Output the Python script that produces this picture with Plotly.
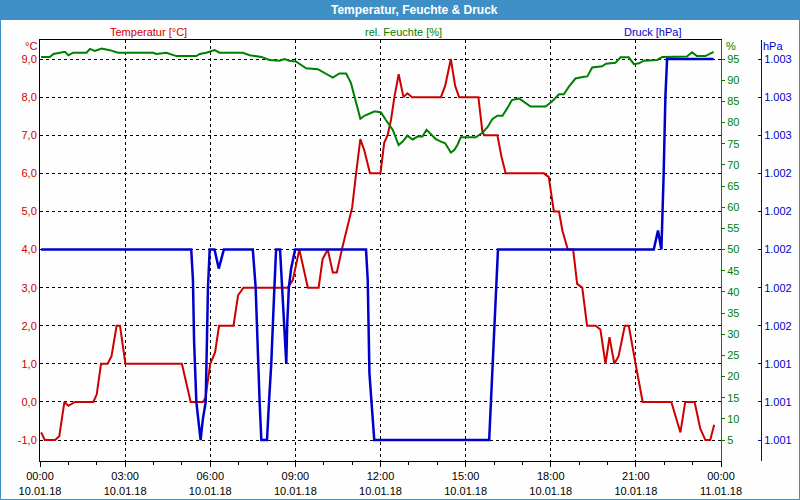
import plotly.graph_objects as go

# ---------------- data ----------------
temp_h = [0.04, 0.17, 0.53, 0.68, 0.86, 1.0, 1.23, 1.88, 2.0, 2.15, 2.38, 2.52, 2.7, 2.82, 3.01,
          5.0, 5.31, 5.74, 5.83, 6.0, 6.17, 6.31, 6.82, 6.98, 7.17, 8.73, 8.91, 9.14, 9.44, 9.82,
          9.96, 10.14, 10.32, 10.46, 10.67, 10.84, 11.0, 11.14, 11.29, 11.43, 11.63, 12.0, 12.13,
          12.25, 12.37, 12.49, 12.64, 12.81, 12.95, 13.11, 14.13, 14.28, 14.48, 14.63, 14.77,
          15.45, 15.59, 15.65, 16.12, 16.26, 16.41, 17.76, 17.93, 18.11, 18.29, 18.41, 18.6,
          18.79, 18.93, 19.11, 19.28, 19.58, 19.75, 19.93, 20.07, 20.24, 20.39, 20.61, 20.75,
          20.99, 21.24, 22.25, 22.57, 22.74, 23.07, 23.27, 23.45, 23.62, 23.76]
temp_v = [-0.8, -1.0, -1.0, -0.9, 0.0, -0.1, 0.0, 0.0, 0.2, 1.0, 1.0, 1.2, 2.0, 2.0, 1.0,
          1.0, 0.0, 0.0, 0.1, 1.0, 1.3, 2.0, 2.0, 2.8, 3.0, 3.0, 3.2, 4.0, 3.0, 3.0,
          3.75, 4.0, 3.4, 3.4, 4.1, 4.6, 5.1, 6.0, 6.9, 6.6, 6.0, 6.0, 6.8,
          7.0, 7.4, 8.0, 8.6, 8.0, 8.1, 8.0, 8.0, 8.3, 9.0, 8.3, 8.0,
          8.0, 7.1, 7.0, 7.0, 6.45, 6.0, 6.0, 5.9, 5.0, 5.0, 4.5, 4.0,
          4.0, 3.1, 3.0, 2.0, 2.0, 1.9, 1.0, 1.7, 1.0, 1.2, 2.0, 2.0,
          1.0, 0.0, 0.0, -0.8, 0.0, 0.0, -0.7, -1.0, -1.0, -0.6]

hum_h = [0.04, 0.35, 0.47, 0.70, 0.88, 1.0, 1.17, 1.64, 1.76, 1.93, 2.17, 2.46, 2.75, 3.99,
         4.10, 4.45, 4.81, 5.51, 5.63, 5.86, 6.15, 6.33, 7.15, 7.39, 7.80, 8.09, 8.44, 8.62,
         8.79, 9.03, 9.38, 9.79, 9.96, 10.32, 10.55, 10.79, 10.96, 11.08, 11.29, 11.43, 11.61,
         11.78, 11.84, 12.02, 12.19, 12.43, 12.64, 12.78, 12.95, 13.13, 13.31, 13.48, 13.62,
         13.77, 13.95, 14.13, 14.28, 14.48, 14.60, 14.71, 14.83, 15.36, 15.59, 15.77, 15.94,
         16.12, 16.30, 16.47, 16.63, 16.88, 17.12, 17.29, 17.82, 18.05, 18.29, 18.46, 18.64,
         18.87, 19.17, 19.29, 19.46, 19.81, 19.95, 20.28, 20.46, 20.75, 20.93, 21.11, 21.28,
         21.75, 21.93, 22.80, 22.98, 23.15, 23.45, 23.74]
hum_v = [95.5, 95.5, 96.2, 96.5, 96.7, 95.9, 96.5, 96.5, 97.4, 96.9, 97.5, 97.1, 96.5, 96.5,
         96.2, 96.5, 95.7, 95.7, 96.2, 96.5, 97.1, 96.5, 96.5, 95.9, 95.5, 94.8, 94.6, 95.0,
         94.6, 94.4, 92.8, 92.6, 92.0, 90.6, 91.6, 91.6, 89.3, 86.1, 80.9, 81.6, 82.2,
         82.6, 82.6, 82.4, 80.6, 78.3, 74.7, 75.5, 76.9, 76.0, 76.7, 76.7, 78.3,
         77.3, 76.1, 75.5, 75.1, 72.9, 73.5, 74.7, 76.5, 76.5, 77.6, 78.9, 80.8,
         81.6, 81.6, 83.4, 85.3, 85.7, 84.7, 83.8, 83.8, 85.0, 86.7, 86.7, 88.5,
         90.4, 90.8, 90.9, 93.0, 93.3, 93.9, 94.1, 95.4, 95.4, 93.8, 94.0, 94.6,
         94.8, 95.5, 95.6, 96.6, 95.7, 95.7, 96.7]

pres_h = [0.04, 5.33, 5.39, 5.43, 5.51, 5.66, 5.74, 5.84, 5.92, 5.98, 6.15, 6.30, 6.48, 7.50,
          7.60, 7.68, 7.74, 7.80, 8.00, 8.07, 8.15, 8.26, 8.32, 8.46, 8.53, 8.62, 8.68, 8.71,
          8.77, 8.85, 8.99, 11.49, 11.55, 11.61, 11.72, 11.78, 15.83, 15.89, 15.94, 16.03,
          16.09, 16.14, 21.63, 21.78, 21.90, 21.95, 21.98, 22.04, 22.10, 23.74]
pres_v = [1002.0, 1002.0, 1001.84, 1001.52, 1001.2, 1001.0, 1001.11, 1001.2, 1001.8, 1002.0,
          1002.0, 1001.9, 1002.0, 1002.0, 1001.8, 1001.4, 1001.2, 1001.0, 1001.0, 1001.2,
          1001.4, 1001.8, 1002.0, 1002.0, 1001.8, 1001.52, 1001.4, 1001.6, 1001.8, 1001.9,
          1002.0, 1002.0, 1001.84, 1001.35, 1001.14, 1001.0, 1001.0, 1001.2, 1001.42, 1001.72,
          1001.86, 1002.0, 1002.0, 1002.1, 1002.0, 1002.2, 1002.4, 1002.8, 1003.0, 1003.0]

x_ticks = [0, 3, 6, 9, 12, 15, 18, 21, 24]
x_ticktext = ["00:00<br>10.01.18", "03:00<br>10.01.18", "06:00<br>10.01.18", "09:00<br>10.01.18",
              "12:00<br>10.01.18", "15:00<br>10.01.18", "18:00<br>10.01.18", "21:00<br>10.01.18",
              "00:00<br>11.01.18"]
temp_ticks = [-1, 0, 1, 2, 3, 4, 5, 6, 7, 8, 9]
temp_ticktext = ["-1,0", "0,0", "1,0", "2,0", "3,0", "4,0", "5,0", "6,0", "7,0", "8,0", "9,0"]
hum_ticks = list(range(0, 100, 5))
pres_ticks = [1001.0, 1001.2, 1001.4, 1001.6, 1001.8, 1002.0, 1002.2, 1002.4, 1002.6, 1002.8, 1003.0]
pres_ticktext = ["1.001", "1.001", "1.001", "1.002", "1.002", "1.002", "1.002", "1.002",
                 "1.003", "1.003", "1.003"]

# ---------------- styling ----------------
RED = "#cc0000"
GREEN = "#008000"
BLUE = "#0000cc"
BAR = "#3e8fc6"
BG = "#fdfefd"
FONT = "Liberation Sans"

W, H = 800, 500
ML, MR, MT, MB = 40, 10, 40, 39
PW = W - ML - MR
PH = H - MT - MB


def px(x):
    return (x - ML) / PW


def py(y):
    return (H - MB - y) / PH


fig = go.Figure()
fig.add_trace(go.Scatter(x=hum_h, y=hum_v, yaxis="y2", mode="lines",
                         line=dict(color=GREEN, width=2), hoverinfo="skip"))
fig.add_trace(go.Scatter(x=temp_h, y=temp_v, yaxis="y", mode="lines",
                         line=dict(color=RED, width=2), hoverinfo="skip"))
fig.add_trace(go.Scatter(x=pres_h, y=pres_v, yaxis="y3", mode="lines",
                         line=dict(color=BLUE, width=2.5), hoverinfo="skip"))

xdom_end = px(721)

fig.update_layout(
    width=W, height=H, showlegend=False,
    margin=dict(l=ML, r=MR, t=MT, b=MB, pad=0, autoexpand=False),
    paper_bgcolor=BG, plot_bgcolor=BG,
    font=dict(family=FONT, size=11, color="black"),
    xaxis=dict(domain=[0, xdom_end], range=[0, 24], tickvals=x_ticks, ticktext=x_ticktext,
               automargin=False,
               showgrid=True, gridcolor="black", griddash="3px,3px", gridwidth=1,
               showline=True, linecolor="black", linewidth=1, mirror=True,
               ticks="outside", ticklen=5, tickcolor="black",
               minor=dict(dtick=1, ticks="outside", ticklen=3, tickcolor="black", showgrid=False),
               zeroline=False, tickfont=dict(size=11, color="black", family=FONT)),
    yaxis=dict(range=[-1.55, 9.5], tickvals=temp_ticks, ticktext=temp_ticktext,
               automargin=False,
               showgrid=True, gridcolor="black", griddash="3px,3px", gridwidth=1,
               showline=True, linecolor="black", linewidth=1, ticks="", zeroline=False,
               tickfont=dict(size=11, color=RED, family=FONT)),
    yaxis2=dict(range=[0.05, 99.5], tickvals=hum_ticks, overlaying="y", side="right",
                automargin=False,
                anchor="x", showgrid=False, zeroline=False, showline=True, linecolor=GREEN,
                linewidth=1, ticks="outside", ticklen=3, tickcolor=GREEN,
                tickfont=dict(size=11, color=GREEN, family=FONT)),
    yaxis3=dict(range=[1000.89, 1003.1], tickvals=pres_ticks, ticktext=pres_ticktext,
                automargin=False,
                overlaying="y", side="right", anchor="free", position=px(761),
                showgrid=False, zeroline=False, showline=True, linecolor=BLUE, linewidth=1,
                ticks="inside", ticklen=3, tickcolor=BLUE,
                tickfont=dict(size=11, color=BLUE, family=FONT)),
)

shapes = [
    dict(type="rect", xref="paper", yref="paper", x0=px(0), x1=px(800), y0=py(20), y1=py(0),
         fillcolor=BAR, line=dict(width=0), layer="below"),
    dict(type="rect", xref="paper", yref="paper", x0=px(0.5), x1=px(799.5), y0=py(499.5), y1=py(0.5),
         fillcolor="rgba(0,0,0,0)", line=dict(width=1, color=BAR)),
]
fig.update_layout(shapes=shapes)

ann = [
    dict(text="<b>Temperatur, Feuchte &amp; Druck</b>", x=px(414), y=py(10), font=dict(size=12, color="white")),
    dict(text="Temperatur [°C]", x=px(148), y=py(32), font=dict(size=11, color=RED)),
    dict(text="rel. Feuchte [%]", x=px(403), y=py(32), font=dict(size=11, color=GREEN)),
    dict(text="Druck [hPa]", x=px(652), y=py(32), font=dict(size=11, color=BLUE)),
    dict(text="°C", x=px(31), y=py(46), font=dict(size=11, color=RED)),
    dict(text="%", x=px(731), y=py(46), font=dict(size=11, color=GREEN)),
    dict(text="hPa", x=px(773), y=py(46), font=dict(size=11, color=BLUE)),
]
fig.update_layout(annotations=[dict(a, xref="paper", yref="paper", showarrow=False,
                                    xanchor="center", yanchor="middle") for a in ann])

fig.write_html("out.html")
